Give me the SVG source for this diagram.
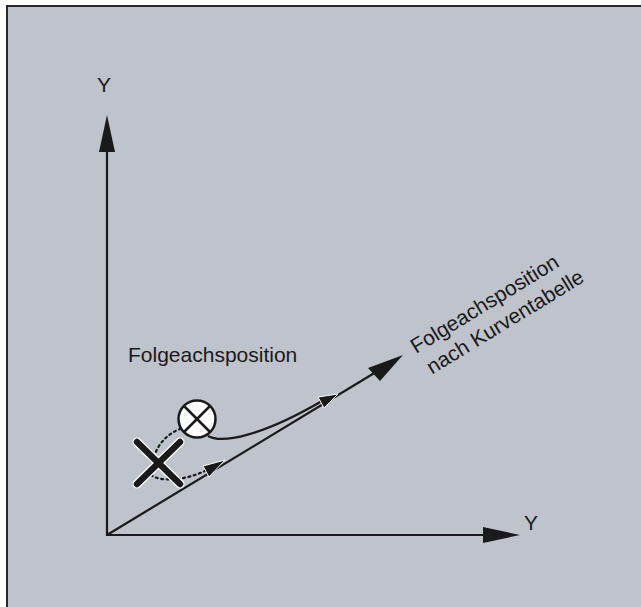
<svg xmlns="http://www.w3.org/2000/svg" width="641" height="607" viewBox="0 0 641 607">
<style>
.t{font-family:"Liberation Sans",Arial,sans-serif;font-size:21px;fill:#1a1a1a}
.ax{stroke:#1a1a1a;stroke-width:2.2;fill:none}
.ah{fill:#1a1a1a}
.sa{fill:#1a1a1a;stroke:#fff;stroke-width:1}
.dot{stroke:#1a1a1a;stroke-width:2.2;fill:none;stroke-dasharray:2 3.5;stroke-linecap:round}
</style>
<rect x="0" y="0" width="641" height="607" fill="#fff"/>
<rect x="7" y="6" width="634" height="601" fill="#bfc3cb"/>
<path d="M7,607 V6 H641" stroke="#2a2a2a" stroke-width="2" fill="none"/>
<g id="connectors">
<line class="ax" x1="107" y1="535" x2="107" y2="148"/>
<polygon class="ah" points="107,115 99,152 115,152"/>
<line class="ax" x1="106" y1="535" x2="486" y2="535"/>
<polygon class="ah" points="520,535 483,527 483,543"/>
<line class="ax" x1="107" y1="535" x2="376" y2="372"/>
<polygon class="ah" points="403,355 368,368 380,381"/>
<path class="ax" d="M208,436 C222,444 262,436 322,401"/>
<path class="dot" d="M154,457 C158,444 167,434 180,429"/>
<path class="dot" d="M151,475 C160,482 185,481 207,470"/>
<polygon class="sa" points="338,394 318,397 324,408"/>
<polygon class="sa" points="225,460 203,466 209,477"/>
</g>
<g id="cross">
<g stroke="#fff" stroke-width="9" stroke-linecap="round"><line x1="137" y1="442" x2="180" y2="484"/><line x1="180" y1="442" x2="137" y2="484"/></g>
<g stroke="#1a1a1a" stroke-width="6.5" stroke-linecap="round"><line x1="137" y1="442" x2="180" y2="484"/><line x1="180" y1="442" x2="137" y2="484"/></g>
</g>
<g id="target">
<circle cx="197" cy="419" r="18.5" fill="#fff" stroke="#1a1a1a" stroke-width="2.5"/>
<line x1="184" y1="406" x2="210" y2="432" stroke="#1a1a1a" stroke-width="2.5"/>
<line x1="210" y1="406" x2="184" y2="432" stroke="#1a1a1a" stroke-width="2.5"/>
</g>
<g id="labels">
<text class="t" x="97" y="92">Y</text>
<text class="t" x="524" y="530">Y</text>
<text class="t" x="128" y="362">Folgeachsposition</text>
<g transform="translate(416,354) rotate(-31.4)">
<text class="t" x="0" y="0">Folgeachsposition</text>
<text class="t" x="3" y="26">nach Kurventabelle</text>
</g>
</g>
</svg>
